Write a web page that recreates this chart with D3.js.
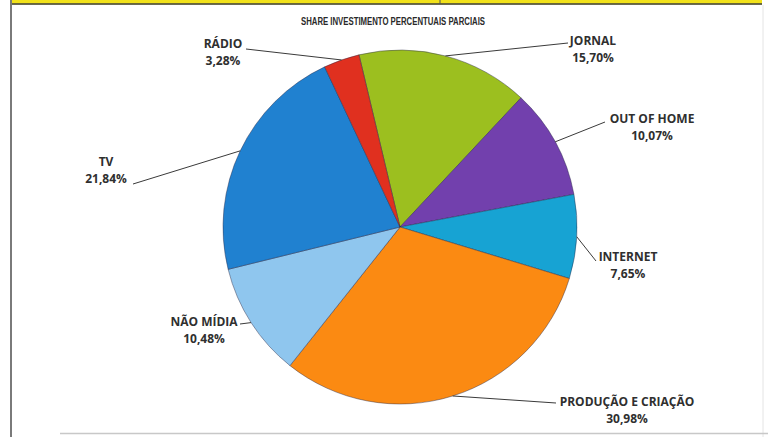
<!DOCTYPE html>
<html>
<head>
<meta charset="utf-8">
<script src="https://cdn.jsdelivr.net/npm/d3@7"></script>
<style>
  html, body { margin: 0; padding: 0; background: #ffffff; }
  svg { display: block; }
  .lbl { font-family: "Open Sans", "DejaVu Sans", sans-serif; font-weight: 700; fill: #2f2f2f; }
</style>
</head>
<body>
<svg id="chart" width="768" height="437"></svg>
<script>
// Investment share by media type (%)
const categories = ["JORNAL", "OUT OF HOME", "INTERNET", "PRODUÇÃO E CRIAÇÃO", "NÃO MÍDIA", "TV", "RÁDIO"];
const shares = [15.70, 10.07, 7.65, 30.98, 10.48, 21.84, 3.28];
const valueLabels = ["15,70%", "10,07%", "7,65%", "30,98%", "10,48%", "21,84%", "3,28%"];
const sliceColors = ["#9cbf1f", "#7240ad", "#17a3d3", "#fb8a12", "#8fc6ee", "#2081d0", "#e0301f"];
const chartTitle = "SHARE INVESTIMENTO PERCENTUAIS PARCIAIS";

// Layout
const W = 768, H = 437;
const cx = 400, cy = 227, R = 177;
const startDeg = -13.4;

// Label placement per category: text centre and leader-line end point
const labelLayout = {
  "JORNAL":             { x: 593, y: 45, elbow: [568, 43] },
  "OUT OF HOME":        { x: 652, y: 123, elbow: [605, 122] },
  "INTERNET":           { x: 628, y: 261, elbow: [596, 261] },
  "PRODUÇÃO E CRIAÇÃO": { x: 627, y: 406, elbow: [556, 403] },
  "NÃO MÍDIA":          { x: 204, y: 326, elbow: [240, 324] },
  "TV":                 { x: 106, y: 166, elbow: [133, 184] },
  "RÁDIO":              { x: 223, y: 48, elbow: [246, 49] }
};

const svg = d3.select("#chart");

// Page frame: yellow header strip, divider, side and bottom borders
svg.append("rect").attr("x", 10).attr("y", 0).attr("width", 752).attr("height", 3.5).attr("fill", "#f2e21a");
svg.append("line").attr("x1", 10).attr("x2", 762).attr("y1", 4).attr("y2", 4).attr("stroke", "#3a3a1a").attr("stroke-width", 1.5);
svg.append("line").attr("x1", 440).attr("x2", 440).attr("y1", 0).attr("y2", 4).attr("stroke", "#555").attr("stroke-width", 1);
svg.append("line").attr("x1", 11).attr("x2", 11).attr("y1", 0).attr("y2", H).attr("stroke", "#7a7a7a").attr("stroke-width", 2);
svg.append("line").attr("x1", 763).attr("x2", 763).attr("y1", 5).attr("y2", H).attr("stroke", "#e4e4e4").attr("stroke-width", 1);
svg.append("line").attr("x1", 60).attr("x2", 768).attr("y1", 433.5).attr("y2", 433.5).attr("stroke", "#c8c8c8").attr("stroke-width", 1.5);

// Title
svg.append("text")
  .attr("x", 393).attr("y", 25)
  .attr("text-anchor", "middle")
  .attr("font-family", "'Liberation Sans', Arial, sans-serif")
  .attr("font-weight", 700).attr("font-size", 10)
  .attr("textLength", 184).attr("lengthAdjust", "spacingAndGlyphs")
  .attr("fill", "#2a2a2a")
  .text(chartTitle);

const data = categories.map((c, i) => ({ cat: c, value: shares[i], label: valueLabels[i], color: sliceColors[i] }));

const start = startDeg * Math.PI / 180;
const pie = d3.pie().sort(null).value(d => d.value).startAngle(start).endAngle(start + 2 * Math.PI);
const arcs = pie(data);

const arc = d3.arc().innerRadius(0).outerRadius(R);

const g = svg.append("g").attr("transform", `translate(${cx},${cy})`);

g.selectAll("path.slice")
  .data(arcs)
  .enter().append("path")
  .attr("class", "slice")
  .attr("d", arc)
  .attr("fill", d => d.data.color)
  .attr("stroke", "rgba(40,40,70,0.55)")
  .attr("stroke-width", 0.8);

// Leader lines from slice edge to label
arcs.forEach(d => {
  const L = labelLayout[d.data.cat];
  const mid = (d.startAngle + d.endAngle) / 2;
  const ex = cx + R * Math.sin(mid), ey = cy - R * Math.cos(mid);
  svg.append("line")
    .attr("x1", ex).attr("y1", ey)
    .attr("x2", L.elbow[0]).attr("y2", L.elbow[1])
    .attr("stroke", "#3a3a3a").attr("stroke-width", 1);
});

// Category and value labels
arcs.forEach(d => {
  const L = labelLayout[d.data.cat];
  const t = svg.append("text").attr("class", "lbl")
    .attr("text-anchor", "middle").attr("font-size", 12);
  t.append("tspan").attr("x", L.x).attr("y", L.y).text(d.data.cat);
  t.append("tspan").attr("x", L.x).attr("y", L.y + 17).text(d.data.label);
});
</script>
</body>
</html>
